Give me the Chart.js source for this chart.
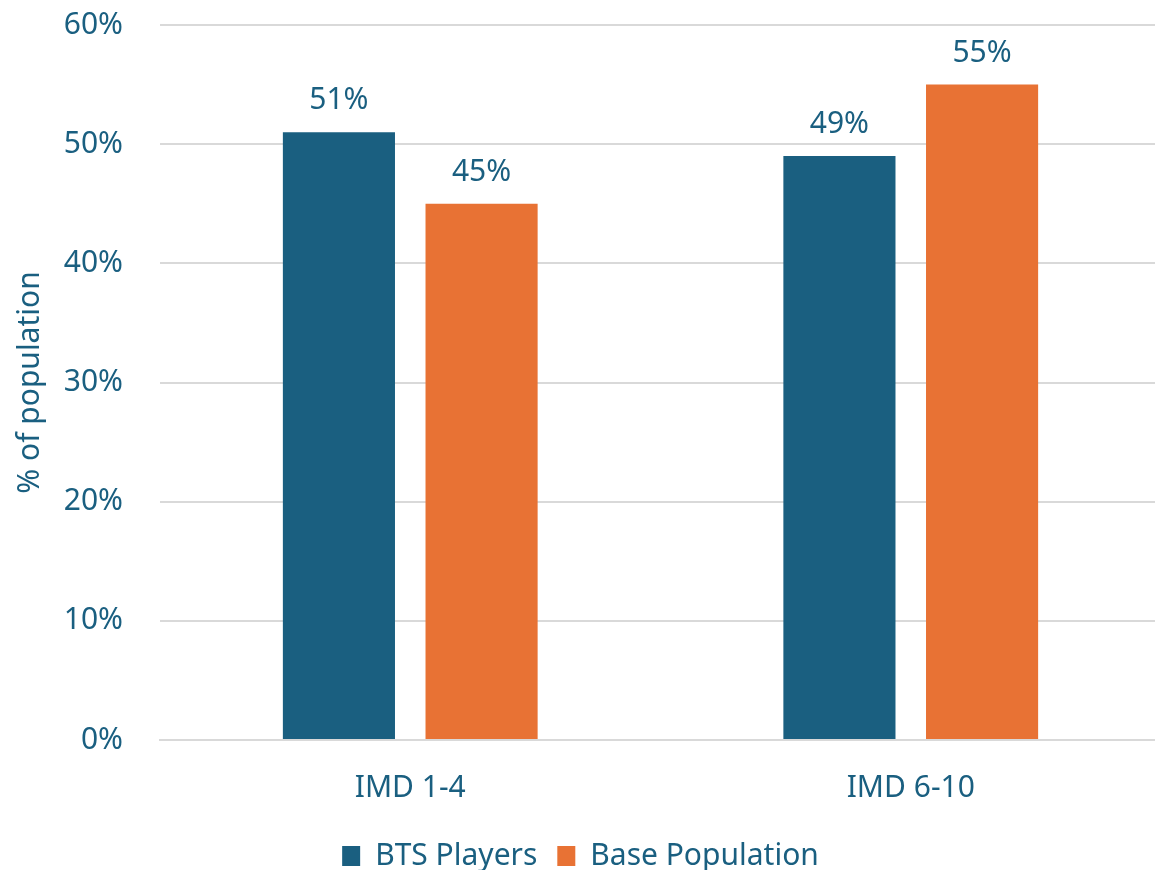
<!DOCTYPE html>
<html>
<head>
<meta charset="utf-8">
<script src="https://cdn.jsdelivr.net/npm/chart.js@4"></script>
<style>
    html, body { margin: 0; padding: 0; background: #ffffff; }
    #wrap { width: 1155px; height: 870px; overflow: hidden; }
</style>
</head>
<body>
<div id="wrap"><canvas id="imdChart" width="1161" height="870"></canvas></div>
<script>
const categories = ["IMD 1-4", "IMD 6-10"];
const btsPlayers = [51, 49];
const basePopulation = [45, 55];
const yTicks = [0, 10, 20, 30, 40, 50, 60];

const BLUE = "#1a5f80";
const ORANGE = "#e87234";
const FONT = "'Noto Sans', sans-serif";
const FONT_SIZE = 30;

// draws the value above every bar
const barValueLabels = {
    id: "barValueLabels",
    afterDatasetsDraw(chart)
    {
        const { ctx } = chart;
        ctx.save();
        ctx.font = FONT_SIZE + "px " + FONT;
        ctx.fillStyle = BLUE;
        ctx.textAlign = "center";
        ctx.textBaseline = "alphabetic";
        chart.data.datasets.forEach((ds, i) =>
        {
            chart.getDatasetMeta(i).data.forEach((bar, j) =>
            {
                ctx.fillText(ds.data[j] + "%", bar.x, bar.y - 23);
            });
        });
        ctx.restore();
    }
};

Chart.defaults.font.family = FONT;
Chart.defaults.color = BLUE;

new Chart(document.getElementById("imdChart"), {
    type: "bar",
    data: {
        labels: categories,
        datasets: [
            {
                label: "BTS Players",
                data: btsPlayers,
                backgroundColor: BLUE,
                categoryPercentage: 0.57,
                barPercentage: 0.786
            },
            {
                label: "Base Population",
                data: basePopulation,
                backgroundColor: ORANGE,
                categoryPercentage: 0.57,
                barPercentage: 0.786
            }
        ]
    },
    options: {
        responsive: false,
        animation: false,
        layout: { padding: { top: 25, right: 0, bottom: -11, left: 0 } },
        plugins: {
            legend: {
                position: "bottom",
                labels: {
                    font: { size: FONT_SIZE },
                    color: BLUE,
                    boxWidth: 18,
                    boxHeight: 20,
                    padding: 20
                }
            },
            tooltip: { enabled: false }
        },
        scales: {
            x: {
                grid: { display: false, drawTicks: false },
                border: { color: "#d9d9d9", width: 2 },
                ticks: { font: { size: FONT_SIZE }, color: BLUE, padding: 30 },
                afterFit(scale)
                {
                    scale.height = 81;
                    scale.paddingLeft = 0;
                    scale.paddingRight = 0;
                }
            },
            y: {
                min: 0,
                max: 60,
                afterBuildTicks(scale) { scale.ticks = yTicks.map(v => ({ value: v })); },
                grid: { color: "#d9d9d9", lineWidth: 2, drawTicks: false },
                border: { display: false },
                ticks: {
                    font: { size: FONT_SIZE },
                    color: BLUE,
                    padding: 37,
                    callback: v => v + "%"
                },
                title: {
                    display: true,
                    text: "% of population",
                    font: { size: FONT_SIZE },
                    color: BLUE,
                    padding: { top: 12, bottom: 0 }
                },
                afterFit(scale)
                {
                    scale.width = 160;
                    scale.paddingTop = 0;
                    scale.paddingBottom = 0;
                }
            }
        }
    },
    plugins: [barValueLabels]
});
</script>
</body>
</html>
